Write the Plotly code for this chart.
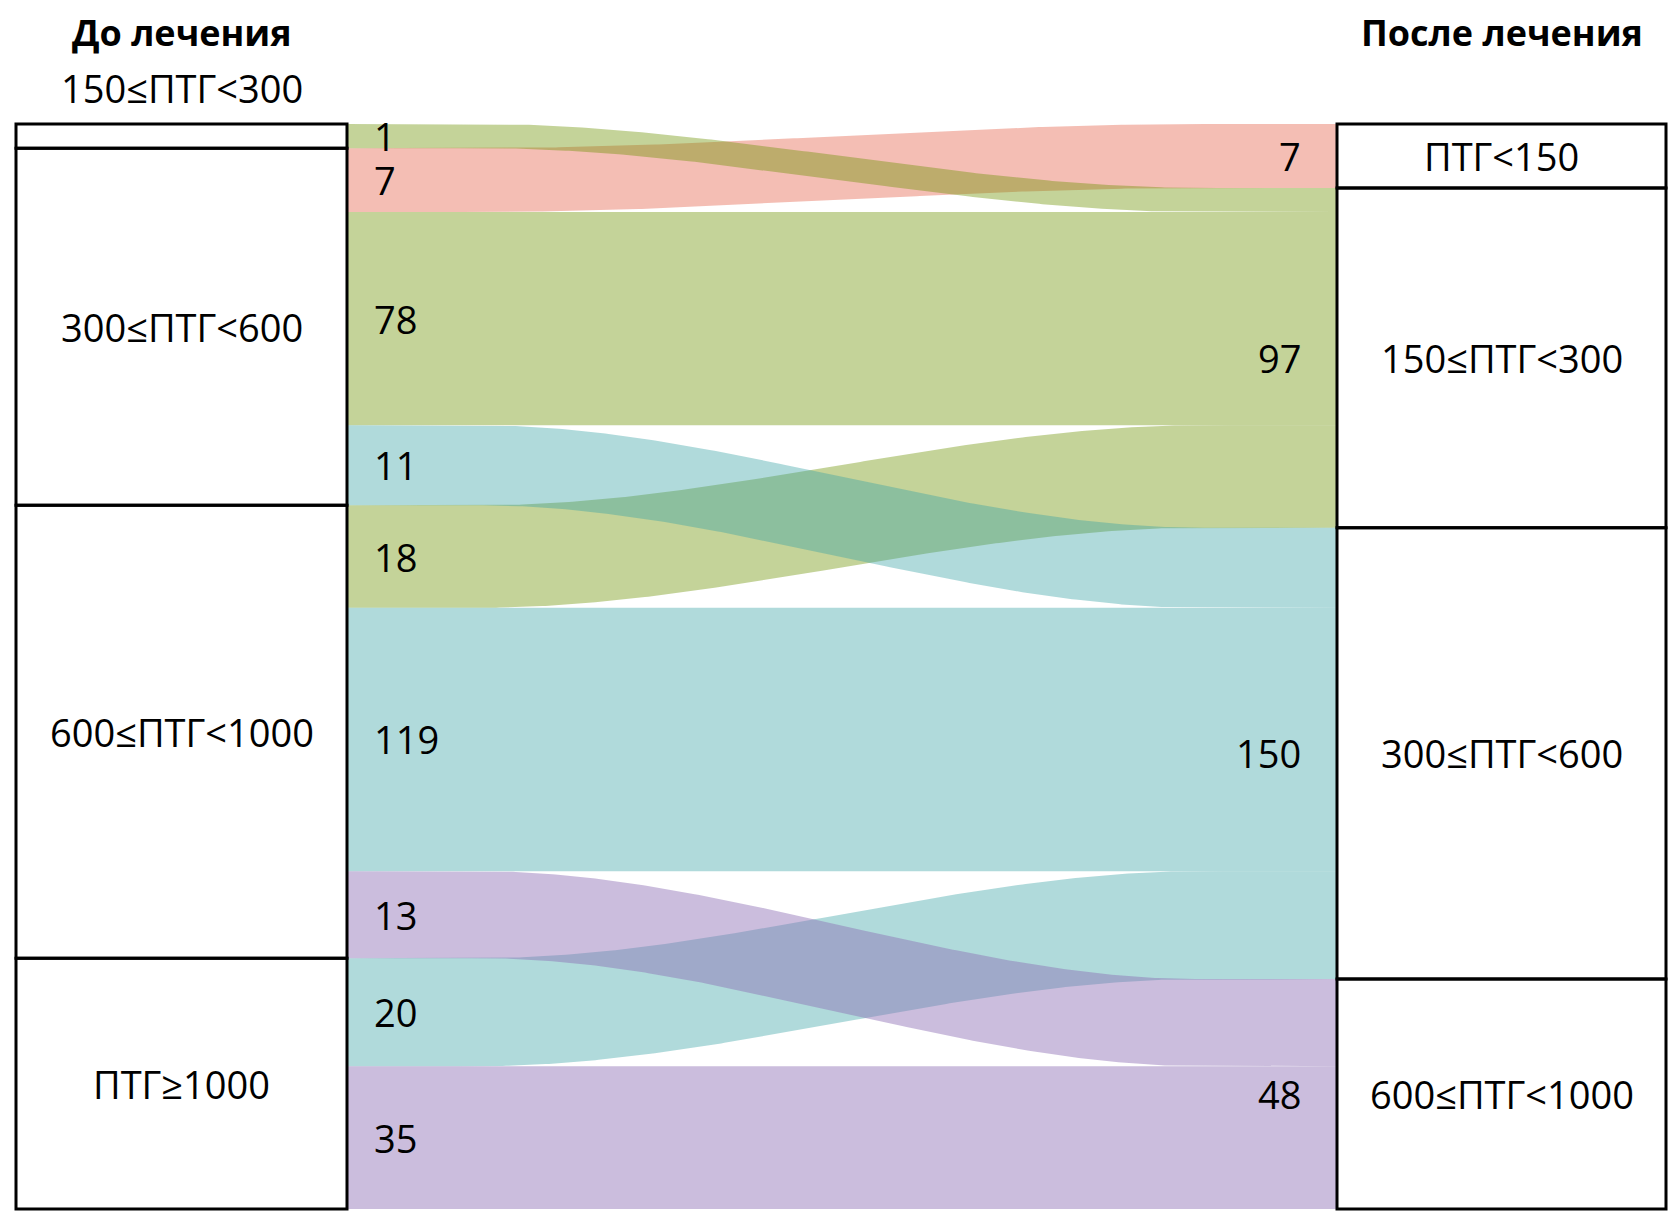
import numpy as np
import plotly.graph_objects as go

# groups before / after treatment, top to bottom
before = ['150≤ПТГ<300', '300≤ПТГ<600', '600≤ПТГ<1000', 'ПТГ≥1000']
after = ['ПТГ<150', '150≤ПТГ<300', '300≤ПТГ<600', '600≤ПТГ<1000']

# patient flows (source index in before, target index in after, count)
src = [0, 1, 1, 1, 2, 2, 2, 3, 3]
dst = [1, 0, 1, 2, 1, 2, 3, 2, 3]
counts = [1, 7, 78, 11, 18, 119, 13, 20, 35]

# band colours by target group, semi-transparent so crossings darken
band_colors = ['rgba(228,93,68,0.4)', 'rgba(108,145,0,0.4)',
               'rgba(58,163,165,0.4)', 'rgba(139,108,179,0.45)']

W, H = 1669, 1226
TOP, BOTTOM = 124, 1209
LBOX = (16, 347)
RBOX = (1337, 1666)
CURVE = (480, 1200)
FONT = 'Open Sans'
FS = 38

# band thickness ~ sqrt(count)
w = np.sqrt(np.array(counts, dtype=float))
total = w.sum()
scale = (BOTTOM - TOP) / total

# left stack follows source order, right stack follows (target, source)
left_order = sorted(range(len(counts)), key=lambda i: (src[i], dst[i]))
right_order = sorted(range(len(counts)), key=lambda i: (dst[i], src[i]))
y_left, y_right = {}, {}
acc = 0.0
for i in left_order:
    y_left[i] = acc
    acc += w[i]
acc = 0.0
for i in right_order:
    y_right[i] = acc
    acc += w[i]

x = np.linspace(LBOX[1], RBOX[0], 300)
t = np.clip((x - CURVE[0]) / (CURVE[1] - CURVE[0]), 0, 1)
s = t * t * (3 - 2 * t)

fig = go.Figure()

for i in sorted(range(len(counts)), key=lambda i: dst[i]):
    top = y_left[i] + (y_right[i] - y_left[i]) * s
    bot = top + w[i]
    fig.add_trace(go.Scatter(
        x=np.concatenate([x, x[::-1]]),
        y=np.concatenate([top, bot[::-1]]),
        fill='toself', fillcolor=band_colors[dst[i]],
        mode='lines', line=dict(width=0), hoverinfo='skip', showlegend=False))

annotations = []
# flow counts on the left
for i in left_order:
    annotations.append(dict(x=372, y=y_left[i] + w[i] / 2, text=str(counts[i]),
                            xanchor='left', yanchor='middle', showarrow=False,
                            font=dict(family=FONT, size=FS, color='black')))

shapes = []


def node_spans(groups, key, pos):
    spans = []
    for g in range(len(groups)):
        members = [i for i in range(len(counts)) if key[i] == g]
        y0 = min(pos[i] for i in members)
        y1 = max(pos[i] + w[i] for i in members)
        tot = sum(counts[i] for i in members)
        spans.append((y0, y1, tot))
    return spans


left_spans = node_spans(before, src, y_left)
right_spans = node_spans(after, dst, y_right)

for (x0, x1), spans, names in [(LBOX, left_spans, before), (RBOX, right_spans, after)]:
    for (y0, y1, tot), name in zip(spans, names):
        shapes.append(dict(type='rect', xref='x', yref='y', x0=x0, x1=x1, y0=y0, y1=y1,
                           line=dict(color='black', width=3), fillcolor='rgba(0,0,0,0)'))
        if (y1 - y0) * scale < 40:
            ly, ya = y0 - 8 / scale, 'bottom'
        else:
            ly, ya = (y0 + y1) / 2, 'middle'
        annotations.append(dict(x=(x0 + x1) / 2, y=ly, text=name, xanchor='center', yanchor=ya,
                                showarrow=False, font=dict(family=FONT, size=FS, color='black')))

# totals on the right
for y0, y1, tot in right_spans:
    annotations.append(dict(x=1303, y=(y0 + y1) / 2, text=str(tot), xanchor='right',
                            yanchor='middle', showarrow=False,
                            font=dict(family=FONT, size=FS, color='black')))

for label, cx in [('До лечения', (LBOX[0] + LBOX[1]) / 2), ('После лечения', (RBOX[0] + RBOX[1]) / 2)]:
    annotations.append(dict(x=cx, y=(32 - TOP) / scale, text='<b>' + label + '</b>',
                            xanchor='center', yanchor='middle', showarrow=False,
                            font=dict(family=FONT, size=36, color='black')))

fig.update_layout(
    width=W, height=H,
    margin=dict(l=0, r=0, t=0, b=0),
    paper_bgcolor='white', plot_bgcolor='white',
    shapes=shapes, annotations=annotations,
    xaxis=dict(range=[0, W], visible=False, fixedrange=True),
    yaxis=dict(range=[total + (H - BOTTOM) / scale, -TOP / scale],
               visible=False, fixedrange=True),
)

fig.write_html('out.html', config={'displayModeBar': False},
               post_script="document.body.style.margin='0';document.body.style.overflow='hidden';")
